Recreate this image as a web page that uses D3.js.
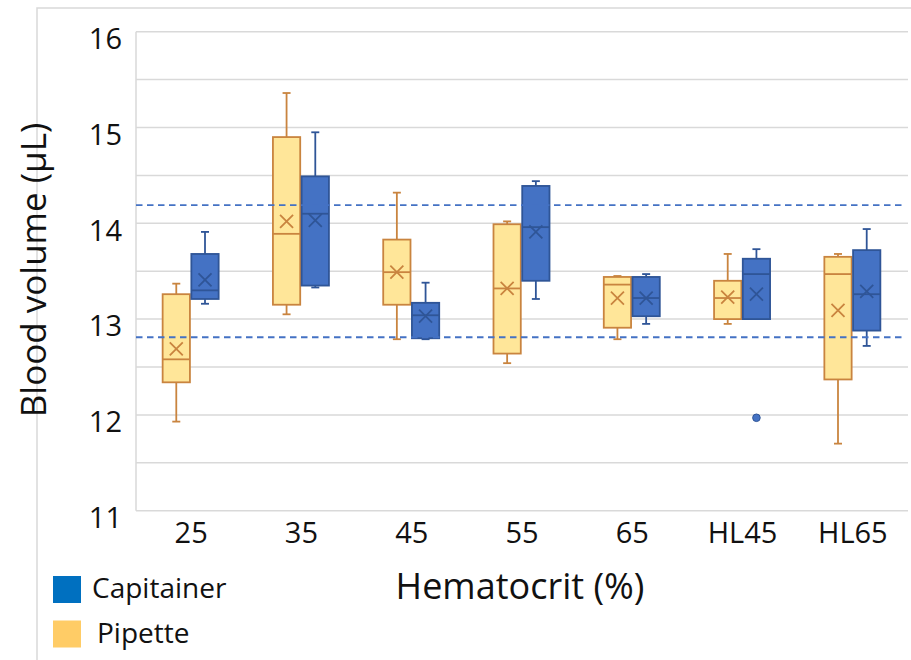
<!DOCTYPE html>
<html><head><meta charset="utf-8">
<script src="https://cdn.jsdelivr.net/npm/d3@7"></script>
<style>body{margin:0;background:#fff}svg{display:block}text{font-family:"Open Sans",Lato,sans-serif;fill:#111}</style>
</head><body><svg id="c" width="911" height="660"></svg>
<script>
const categories = ["25","35","45","55","65","HL45","HL65"];
const series = ["Pipette","Capitainer"];
// [whiskerLow, q1, median, q3, whiskerHigh, mean]
const pipette = [
  [11.93,12.34,12.58,13.26,13.37,12.69],
  [13.05,13.15,13.89,14.90,15.36,14.02],
  [12.79,13.15,13.49,13.83,14.32,13.49],
  [12.54,12.64,13.32,13.99,14.02,13.32],
  [12.79,12.91,13.36,13.44,13.45,13.22],
  [12.95,13.00,13.22,13.40,13.68,13.23],
  [11.70,12.37,13.47,13.65,13.68,13.09]
];
const capitainer = [
  [13.16,13.21,13.30,13.68,13.91,13.41],
  [13.33,13.35,14.10,14.49,14.95,14.03],
  [12.79,12.80,13.04,13.17,13.38,13.03],
  [13.21,13.40,13.96,14.39,14.44,13.91],
  [12.95,13.03,13.22,13.44,13.47,13.22],
  [13.00,13.00,13.47,13.63,13.73,13.26],
  [12.72,12.88,13.26,13.72,13.94,13.29]
];
const outliers = [{cat:"HL45", series:"Capitainer", value:11.97}];
const refLines = [14.19, 12.81];
const yTicks = [11,12,13,14,15,16];
const gridValues = [11,11.5,12,12.5,13,13.5,14,14.5,15,15.5,16];

const svg = d3.select("#c");
const L = 136, R = 908, T = 31.7, B = 510.7;
const y = d3.scaleLinear().domain([11,16]).range([B,T]);
const x = d3.scaleBand().domain(categories).range([L,R]);
const xs = d3.scaleBand().domain(series).range([-28.5,27.5]).paddingInner(0.05);

const style = {
  Pipette:{fill:"#FFE699", stroke:"#C9843F"},
  Capitainer:{fill:"#4472C4", stroke:"#2F5597"}
};
const legendColors = {Capitainer:"#0070C0", Pipette:"#FFCC66"};

// outer frame
svg.append("path").attr("d","M37,660V8H911").attr("fill","none").attr("stroke","#d9d9d9").attr("stroke-width",1.5);

// grid
svg.append("g").selectAll("line").data(gridValues).join("line")
  .attr("x1",L).attr("x2",R).attr("y1",d=>y(d)).attr("y2",d=>y(d))
  .attr("stroke","#d9d9d9").attr("stroke-width",1.5);
svg.append("line").attr("x1",L).attr("x2",L).attr("y1",T).attr("y2",B).attr("stroke","#d9d9d9").attr("stroke-width",1.5);

// y axis labels
const yAxis = d3.axisLeft(y).tickValues(yTicks).tickSize(0).tickPadding(14).tickFormat(d3.format("d"));
const gy = svg.append("g").attr("transform",`translate(${L},0)`).call(yAxis);
gy.select(".domain").remove();
gy.selectAll("text").attr("font-size",29).attr("dy","0.58em").style("font-family","'Open Sans'").attr("fill","#111");

// x axis labels
const xAxis = d3.axisBottom(x).tickSize(0);
const gx = svg.append("g").attr("transform",`translate(0,${B})`).call(xAxis);
gx.select(".domain").remove();
gx.selectAll("text").attr("font-size",29).attr("y",32.5).attr("dy",0).style("font-family","'Open Sans'").attr("fill","#111");

// boxes
const data = [];
categories.forEach((c,i)=>{
  data.push({cat:c, s:"Pipette", v:pipette[i]});
  data.push({cat:c, s:"Capitainer", v:capitainer[i]});
});
const g = svg.append("g");
const bg = g.selectAll("g.box").data(data).join("g").attr("class","box")
  .attr("transform",d=>`translate(${x(d.cat)+x.bandwidth()/2+xs(d.s)},0)`);
const bw = xs.bandwidth();
bg.each(function(d){
  const s = d3.select(this), st = style[d.s], v = d.v, cx = bw/2;
  const sw = 1.8;
  s.append("line").attr("x1",cx).attr("x2",cx).attr("y1",y(v[4])).attr("y2",y(v[3])).attr("stroke",st.stroke).attr("stroke-width",sw);
  s.append("line").attr("x1",cx).attr("x2",cx).attr("y1",y(v[1])).attr("y2",y(v[0])).attr("stroke",st.stroke).attr("stroke-width",sw);
  s.append("line").attr("x1",cx-4).attr("x2",cx+4).attr("y1",y(v[4])).attr("y2",y(v[4])).attr("stroke",st.stroke).attr("stroke-width",sw);
  s.append("line").attr("x1",cx-4).attr("x2",cx+4).attr("y1",y(v[0])).attr("y2",y(v[0])).attr("stroke",st.stroke).attr("stroke-width",sw);
  s.append("rect").attr("x",0).attr("width",bw).attr("y",y(v[3])).attr("height",y(v[1])-y(v[3]))
    .attr("fill",st.fill).attr("stroke",st.stroke).attr("stroke-width",sw);
  s.append("line").attr("x1",0).attr("x2",bw).attr("y1",y(v[2])).attr("y2",y(v[2])).attr("stroke",st.stroke).attr("stroke-width",sw);
  const m = y(v[5]), h = 6.5;
  s.append("path").attr("d",`M${cx-h},${m-h}L${cx+h},${m+h}M${cx-h},${m+h}L${cx+h},${m-h}`)
    .attr("stroke",st.stroke).attr("stroke-width",sw).attr("fill","none");
});

// outliers
g.selectAll("circle").data(outliers).join("circle")
  .attr("cx",d=>x(d.cat)+x.bandwidth()/2+xs(d.series)+bw/2)
  .attr("cy",d=>y(d.value)).attr("r",3.8).attr("fill",style.Capitainer.fill).attr("stroke",style.Capitainer.stroke);

// reference lines
svg.append("g").selectAll("line").data(refLines).join("line")
  .attr("x1",L).attr("x2",R-3).attr("y1",d=>y(d)).attr("y2",d=>y(d))
  .attr("stroke","#4472C4").attr("stroke-width",1.9).attr("stroke-dasharray","6.5,4.5");

// axis titles
svg.append("text").attr("transform","translate(46,270) rotate(-90)").attr("text-anchor","middle")
  .attr("font-size",35).text("Blood volume (µL)");
svg.append("text").attr("x",520).attr("y",599).attr("text-anchor","middle")
  .attr("font-size",36).text("Hematocrit (%)");

// legend
const legendItems = ["Capitainer","Pipette"];
const lg = svg.append("g").selectAll("g").data(legendItems).join("g")
  .attr("transform",(d,i)=>`translate(53,${576+i*44.5})`);
lg.append("rect").attr("width",28).attr("height",27).attr("fill",d=>legendColors[d]);
lg.append("text").attr("x",(d,i)=>i===0?39:44).attr("y",22).attr("font-size",28).text(d=>d);
</script></body></html>
